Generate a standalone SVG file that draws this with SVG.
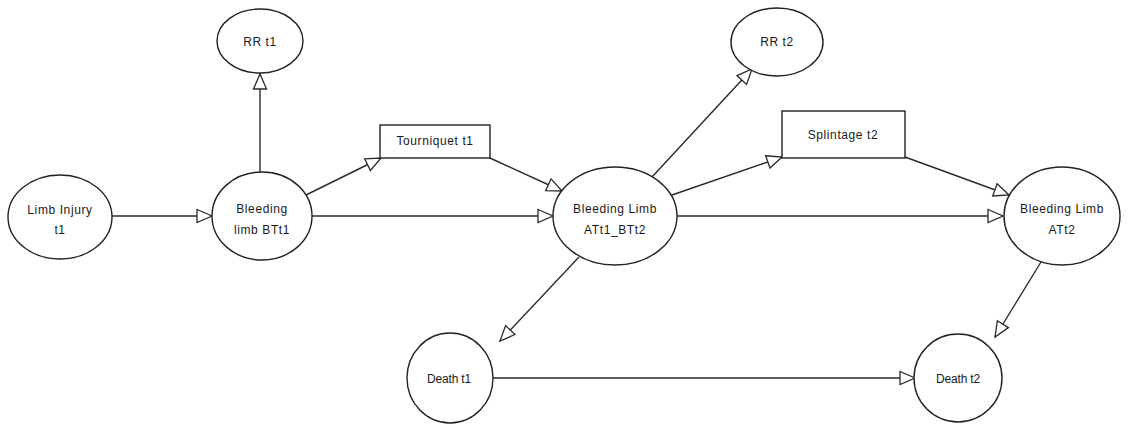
<svg xmlns="http://www.w3.org/2000/svg" width="1128" height="428" viewBox="0 0 1128 428">
  <style>
    .node { fill: #ffffff; stroke: #222222; stroke-width: 1.4; }
    .edge { fill: none; stroke: #2a2a2a; stroke-width: 1.4; marker-end: url(#open); }
    .lbl { font-family: "Liberation Sans", Arial, sans-serif; font-size: 12px; fill: #1a1a1a; text-anchor: middle; letter-spacing: 0.6px; }
    .lbl2 { font-family: "Liberation Sans", Arial, sans-serif; font-size: 12px; fill: #1a1a1a; text-anchor: middle; letter-spacing: -0.2px; }
  </style>
  <defs>
    <marker id="open" markerUnits="userSpaceOnUse" markerWidth="18" markerHeight="14" refX="15" refY="6.5" orient="auto" overflow="visible">
      <path d="M0,0 L15,6.5 L0,13 Z" fill="#ffffff" stroke="#2a2a2a" stroke-width="1.3"/>
    </marker>
  </defs>
  <rect width="1128" height="428" fill="#ffffff"/>

  <!-- connectors -->
  <g id="edges">
    <line class="edge" x1="112" y1="216" x2="212" y2="216"/>
    <line class="edge" x1="260" y1="172" x2="260" y2="74"/>
    <line class="edge" x1="306" y1="195" x2="381" y2="158"/>
    <line class="edge" x1="312" y1="216" x2="553" y2="216"/>
    <line class="edge" x1="490" y1="158" x2="562" y2="191"/>
    <line class="edge" x1="652" y1="177" x2="752" y2="69"/>
    <line class="edge" x1="672" y1="195" x2="782" y2="157"/>
    <line class="edge" x1="677" y1="216" x2="1003" y2="216"/>
    <line class="edge" x1="905" y1="157" x2="1009" y2="195"/>
    <line class="edge" x1="579" y1="257" x2="500" y2="341"/>
    <line class="edge" x1="1041" y1="262" x2="995" y2="337"/>
    <line class="edge" x1="493" y1="378" x2="915" y2="378"/>
  </g>

  <g id="limb-injury-t1">
    <ellipse class="node" cx="60" cy="217" rx="52" ry="42"/>
    <text class="lbl" x="60" y="214">Limb Injury</text>
    <text class="lbl" x="60" y="234">t1</text>
  </g>
  <g id="bleeding-limb-btt1">
    <ellipse class="node" cx="262" cy="216" rx="50" ry="44"/>
    <text class="lbl" x="262" y="213">Bleeding</text>
    <text class="lbl" x="262" y="234">limb BTt1</text>
  </g>
  <g id="rr-t1">
    <ellipse class="node" cx="260" cy="41" rx="43" ry="32"/>
    <text class="lbl" x="260" y="46">RR t1</text>
  </g>
  <g id="tourniquet-t1">
    <rect class="node" x="380" y="125" width="110" height="33"/>
    <text class="lbl" x="435" y="145">Tourniquet t1</text>
  </g>
  <g id="bleeding-limb-att1-btt2">
    <ellipse class="node" cx="615" cy="216" rx="62" ry="49"/>
    <text class="lbl" x="615" y="213">Bleeding Limb</text>
    <text class="lbl" x="615" y="234">ATt1_BTt2</text>
  </g>
  <g id="rr-t2">
    <ellipse class="node" cx="777" cy="42" rx="46" ry="34"/>
    <text class="lbl" x="777" y="46">RR t2</text>
  </g>
  <g id="splintage-t2">
    <rect class="node" x="782" y="111" width="123" height="47"/>
    <text class="lbl" x="843" y="139">Splintage t2</text>
  </g>
  <g id="bleeding-limb-att2">
    <ellipse class="node" cx="1062" cy="216" rx="58" ry="49"/>
    <text class="lbl" x="1062" y="213">Bleeding Limb</text>
    <text class="lbl" x="1062" y="234">ATt2</text>
  </g>
  <g id="death-t1">
    <ellipse class="node" cx="450" cy="378" rx="43" ry="45"/>
    <text class="lbl2" x="449" y="383">Death t1</text>
  </g>
  <g id="death-t2">
    <ellipse class="node" cx="958" cy="378" rx="44" ry="44"/>
    <text class="lbl2" x="958" y="383">Death t2</text>
  </g>
</svg>
